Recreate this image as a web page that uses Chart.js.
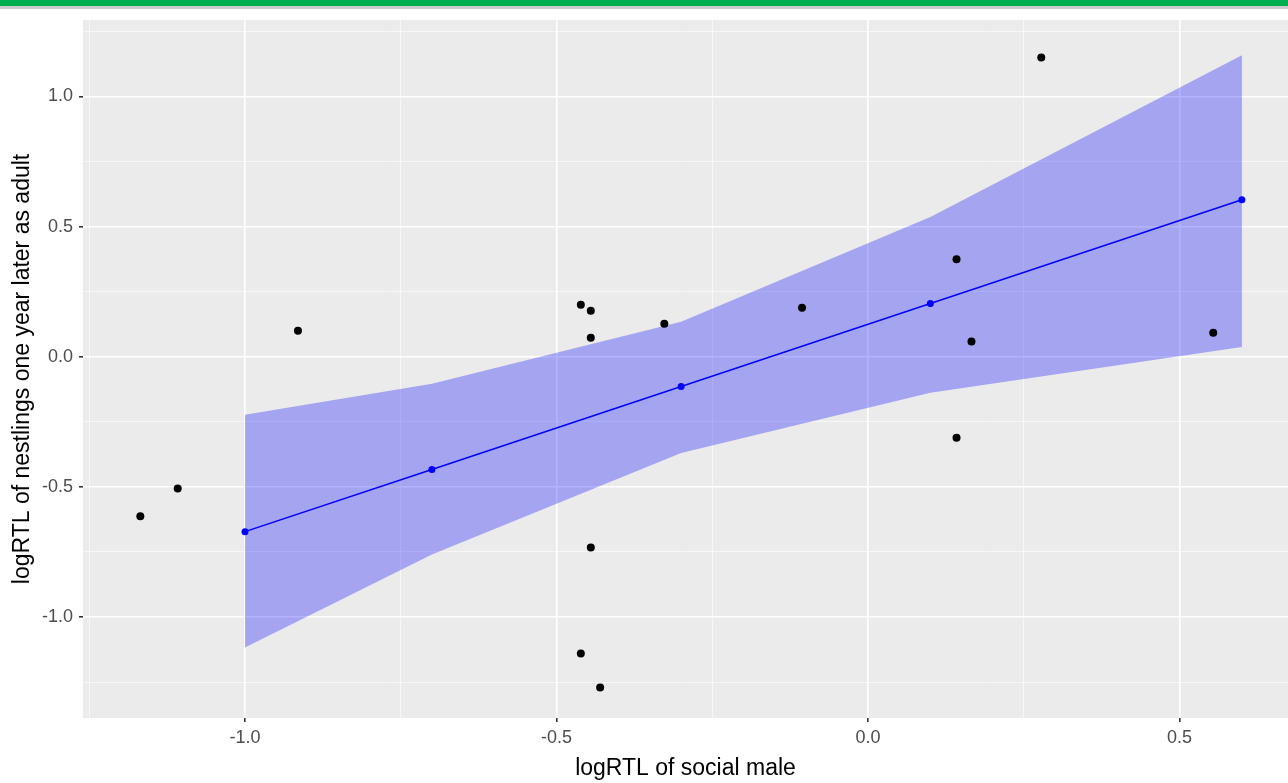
<!DOCTYPE html>
<html>
<head>
<meta charset="utf-8">
<script src="https://cdn.jsdelivr.net/npm/chart.js@4/dist/chart.umd.min.js"></script>
<style>
  html, body { margin: 0; padding: 0; background: #fff; }
  #wrap { position: relative; width: 1288px; height: 783px; }
  #topbar { position: absolute; left: 0; top: 0; width: 1288px; height: 6px; background: #00b050; border-bottom: 3px solid #cbcbcb; }
  canvas { position: absolute; left: 0; top: 0; }
</style>
</head>
<body>
<div id="wrap">
  <canvas id="chart" width="1288" height="783"></canvas>
  <div id="topbar"></div>
</div>
<script>
// observed points
const socialMale = [-1.168, -1.108, -0.915, -0.461, -0.445, -0.445, -0.327, -0.445, -0.461, -0.430, -0.106, 0.142, 0.166, 0.142, 0.278, 0.554];
const nestlings  = [-0.613, -0.506, 0.100, 0.200, 0.177, 0.073, 0.127, -0.733, -1.140, -1.271, 0.188, 0.375, 0.059, -0.311, 1.150, 0.092];

// fitted line + confidence band
const fitX     = [-1.0, -0.7, -0.3, 0.1, 0.6];
const fitY     = [-0.672, -0.433, -0.114, 0.205, 0.603];
const fitUpper = [-0.223, -0.104, 0.135, 0.537, 1.159];
const fitLower = [-1.117, -0.760, -0.370, -0.138, 0.038];

// axis ticks
const xMajor = [-1.0, -0.5, 0.0, 0.5];
const xMinor = [-1.25, -0.75, -0.25, 0.25];
const yMajor = [-1.0, -0.5, 0.0, 0.5, 1.0];
const yMinor = [-1.25, -0.75, -0.25, 0.25, 0.75, 1.25];

const xTitle = "logRTL of social male";
const yTitle = "logRTL of nestlings one year later as adult";

const pts = (xs, ys) => xs.map((x, i) => ({ x: x, y: ys[i] }));
const isMajor = (list, v) => list.some(m => Math.abs(m - v) < 1e-9);

const panelBg = {
  id: 'panelBg',
  beforeDraw(chart) {
    const { ctx, chartArea: a } = chart;
    ctx.save();
    ctx.fillStyle = '#ebebeb';
    ctx.fillRect(a.left, a.top, a.right - a.left, a.bottom - a.top);
    ctx.restore();
  }
};

function axisOpts(major, minor, title, isX) {
  return {
    type: 'linear',
    min: isX ? -1.26 : -1.388,
    max: isX ? 0.674 : 1.294,
    afterBuildTicks: s => {
      s.ticks = major.concat(minor).sort((a, b) => a - b).map(v => ({ value: v }));
    },
    afterFit: s => {
      if (isX) s.height = 65; else s.width = 83;
      s.paddingLeft = 0; s.paddingRight = 0;
      s.paddingTop = 0; s.paddingBottom = 0;
    },
    border: { display: false },
    grid: {
      color: c => isMajor(major, c.tick.value) ? '#ffffff' : 'rgba(255,255,255,0.75)',
      lineWidth: c => isMajor(major, c.tick.value) ? 1.6 : 0.8,
      tickLength: 4,
      tickColor: c => isMajor(major, c.tick.value) ? '#333333' : 'rgba(0,0,0,0)'
    },
    ticks: {
      autoSkip: false,
      maxRotation: 0,
      padding: isX ? 5 : 6,
      color: '#4d4d4d',
      font: { family: 'Liberation Sans, Arial, sans-serif', size: 18 },
      callback: v => isMajor(major, v) ? v.toFixed(1) : ''
    },
    title: {
      display: true,
      text: title,
      color: '#000000',
      font: { family: 'Liberation Sans, Arial, sans-serif', size: 23 },
      padding: isX ? { top: 0, bottom: 1 } : { top: 9, bottom: 0 }
    }
  };
}

new Chart(document.getElementById('chart'), {
  type: 'scatter',
  data: {
    datasets: [
      {
        type: 'line',
        data: pts(fitX, fitUpper),
        borderWidth: 0,
        pointRadius: 0,
        backgroundColor: 'rgba(0,0,255,0.3)',
        fill: '+1',
        tension: 0,
        order: 4
      },
      {
        type: 'line',
        data: pts(fitX, fitLower),
        borderWidth: 0,
        pointRadius: 0,
        fill: false,
        tension: 0,
        order: 5
      },
      {
        type: 'line',
        data: pts(fitX, fitY),
        borderColor: '#0000ff',
        borderWidth: 1.5,
        pointRadius: 3.5,
        pointBackgroundColor: '#0000ff',
        pointBorderWidth: 0,
        fill: false,
        tension: 0,
        order: 2
      },
      {
        data: pts(socialMale, nestlings),
        pointRadius: 4,
        pointBackgroundColor: '#000000',
        pointBorderWidth: 0,
        order: 1
      }
    ]
  },
  options: {
    responsive: false,
    animation: false,
    devicePixelRatio: 1,
    layout: { autoPadding: false, padding: { top: 20, right: 0, left: 0, bottom: 0 } },
    plugins: { legend: { display: false }, tooltip: { enabled: false } },
    scales: {
      x: axisOpts(xMajor, xMinor, xTitle, true),
      y: axisOpts(yMajor, yMinor, yTitle, false)
    }
  },
  plugins: [panelBg]
});
</script>
</body>
</html>
